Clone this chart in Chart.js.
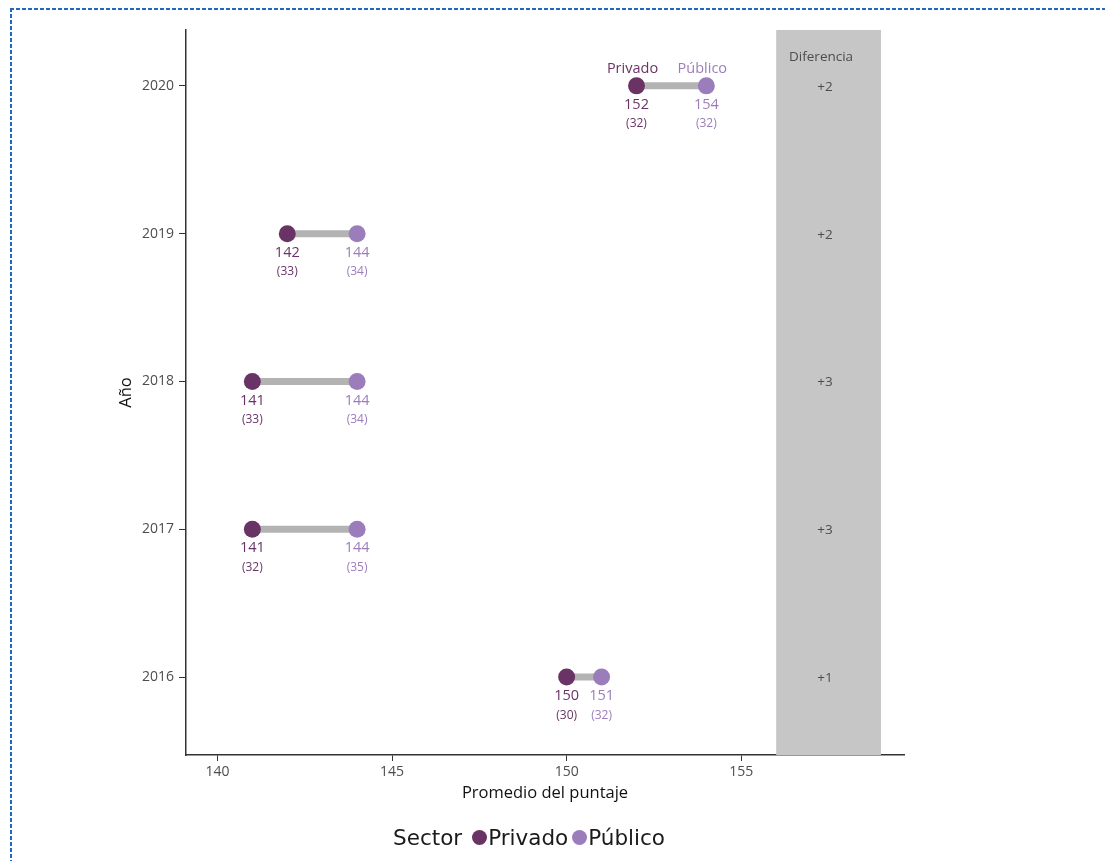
<!DOCTYPE html>
<html>
<head>
<meta charset="utf-8">
<script src="https://cdn.jsdelivr.net/npm/chart.js@4.4.1/dist/chart.umd.min.js"></script>
<style>
  html, body { margin: 0; padding: 0; background: #fff; overflow: hidden; }
  #wrap { position: relative; width: 1105px; height: 861px; }
  .edge { position: absolute; pointer-events: none; }
  #edgeTop { left: 10px; top: 8px; width: 1100px; height: 1.5px;
             background: repeating-linear-gradient(90deg, #1f69be 0 4px, transparent 4px 6px); }
  #edgeLeft { left: 10px; top: 8px; width: 1.5px; height: 900px;
              background: repeating-linear-gradient(180deg, #1f69be 0 4px, transparent 4px 6px); }
  #legend { position: absolute; left: 393px; top: 825px; font-family: "DejaVu Sans", sans-serif;
            font-size: 21.5px; color: #1a1a1a; display: flex; align-items: center; white-space: nowrap; }
  #legend .dot { display: inline-block; width: 15px; height: 15px; border-radius: 50%; margin: 0 1px 0 0; }
</style>
</head>
<body>
<div id="wrap">
  <canvas id="c" width="1105" height="861"></canvas>
  <div class="edge" id="edgeTop"></div>
  <div class="edge" id="edgeLeft"></div>
  <div id="legend"></div>
</div>
<script>
// Datos
const years      = [2016, 2017, 2018, 2019, 2020];
const privado    = [150, 141, 141, 142, 152];
const publico    = [151, 144, 144, 144, 154];
const privadoSd  = [30, 32, 33, 33, 32];
const publicoSd  = [32, 35, 34, 34, 32];
const diferencia = ["+1", "+3", "+3", "+2", "+2"];
const xTicks     = [140, 145, 150, 155];

const COL_PRIV = "#6a3366";
const COL_PUB  = "#9c7dbb";
const FONT = '"Open Sans", sans-serif';

// Panel gris "Diferencia" (en unidades del eje x)
const PANEL_FROM = 156, PANEL_TO = 159, DIFF_X = 157.4;

// legend (html)
const legend = document.getElementById("legend");
legend.innerHTML =
  `<span style="margin-right:10px">Sector</span>` +
  `<span class="dot" style="background:${COL_PRIV}"></span><span style="margin-right:4px">Privado</span>` +
  `<span class="dot" style="background:${COL_PUB}"></span><span>Público</span>`;

const segments = years.map((y, i) => ({
  type: "line",
  data: [{ x: privado[i], y }, { x: publico[i], y }],
  borderColor: "#b3b3b3",
  borderWidth: 7,
  pointRadius: 0,
  fill: false,
  order: 2,
}));

const panelPlugin = {
  id: "panel",
  beforeDatasetsDraw(chart) {
    const { ctx, chartArea: a, scales: { x } } = chart;
    const x0 = x.getPixelForValue(PANEL_FROM), x1 = x.getPixelForValue(PANEL_TO);
    ctx.save();
    ctx.fillStyle = "#c6c6c6";
    ctx.fillRect(x0, a.top, x1 - x0, a.bottom - a.top);
    ctx.fillStyle = "#4d4d4d";
    ctx.textAlign = "center";
    ctx.textBaseline = "middle";
    ctx.font = `13.5px ${FONT}`;
    ctx.fillText("Diferencia", x.getPixelForValue(DIFF_X) - 4, a.top + 27);
    ctx.restore();
  },
};

const labelPlugin = {
  id: "labels",
  afterDatasetsDraw(chart) {
    const { ctx, scales: { x, y } } = chart;
    ctx.save();
    ctx.textAlign = "center";
    ctx.textBaseline = "middle";
    years.forEach((yr, i) => {
      const py = y.getPixelForValue(yr);
      [[privado[i], privadoSd[i], COL_PRIV], [publico[i], publicoSd[i], COL_PUB]].forEach(([v, sd, col]) => {
        const px = x.getPixelForValue(v);
        ctx.fillStyle = col;
        ctx.font = `14.5px ${FONT}`;
        ctx.fillText(String(v), px, py + 19);
        ctx.font = `12px ${FONT}`;
        ctx.fillText(`(${sd})`, px, py + 38);
      });
      ctx.fillStyle = "#4d4d4d";
      ctx.font = `13.5px ${FONT}`;
      ctx.fillText(diferencia[i], x.getPixelForValue(DIFF_X), py + 1);
    });
    // etiquetas de sector sobre el último año
    const last = years.length - 1;
    const ly = y.getPixelForValue(years[last]) - 17;
    ctx.font = `14.5px ${FONT}`;
    ctx.fillStyle = COL_PRIV;
    ctx.fillText("Privado", x.getPixelForValue(privado[last]) - 4, ly);
    ctx.fillStyle = COL_PUB;
    ctx.fillText("Público", x.getPixelForValue(publico[last]) - 4, ly);
    ctx.restore();
  },
};

new Chart(document.getElementById("c"), {
  type: "scatter",
  data: {
    datasets: [
      ...segments,
      {
        label: "Privado",
        data: years.map((y, i) => ({ x: privado[i], y })),
        backgroundColor: COL_PRIV, borderColor: COL_PRIV,
        pointRadius: 8.5, borderWidth: 0, order: 1,
      },
      {
        label: "Público",
        data: years.map((y, i) => ({ x: publico[i], y })),
        backgroundColor: COL_PUB, borderColor: COL_PUB,
        pointRadius: 8.5, borderWidth: 0, order: 1,
      },
    ],
  },
  options: {
    responsive: false,
    animation: false,
    layout: { padding: { left: 112, top: 30, right: 201, bottom: 54 } },
    plugins: { legend: { display: false }, tooltip: { enabled: false } },
    scales: {
      x: {
        type: "linear", min: 139.1, max: 159.66,
        afterBuildTicks: s => { s.ticks = xTicks.map(v => ({ value: v })); },
        afterFit: s => { s.height = 52; },
        grid: { drawOnChartArea: false, drawTicks: true, tickLength: 6, color: "#333", lineWidth: 1 },
        border: { color: "#333", width: 1.5 },
        ticks: { color: "#4d4d4d", font: { family: FONT, size: 14 }, padding: 3 },
        title: { display: true, text: "Promedio del puntaje", color: "#111",
                 font: { family: FONT, size: 16.5 }, padding: { top: 2, bottom: 4 } },
      },
      y: {
        type: "linear", min: 2015.473, max: 2020.378,
        afterBuildTicks: s => { s.ticks = years.map(v => ({ value: v })); },
        afterFit: s => { s.width = 74; },
        grid: { drawOnChartArea: false, drawTicks: true, tickLength: 7, color: "#333", lineWidth: 1 },
        border: { color: "#333", width: 1.5 },
        ticks: { color: "#4d4d4d", font: { family: FONT, size: 14 }, padding: 5, callback: v => String(v) },
        title: { display: true, text: "Año", color: "#111",
                 font: { family: FONT, size: 16.5 }, padding: { top: 4, bottom: 4 } },
      },
    },
  },
  plugins: [panelPlugin, labelPlugin],
});
</script>
</body>
</html>
